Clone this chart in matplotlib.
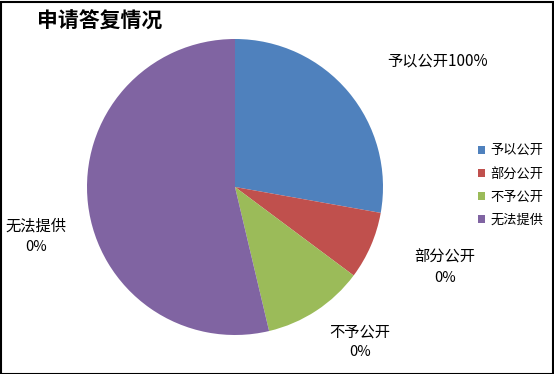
import matplotlib
matplotlib.use("Agg")
import matplotlib.pyplot as plt
from matplotlib.patches import Rectangle

plt.rcParams['font.family'] = ['Noto Sans CJK SC', 'DejaVu Sans']

# Reply categories and slice shares
categories = ["予以公开", "部分公开", "不予公开", "无法提供"]
shares = [27.8, 7.4, 11.1, 53.7]
pct_labels = ["100%", "0%", "0%", "0%"]
colors = ["#4F81BD", "#C0504D", "#9BBB59", "#8064A2"]
title = "申请答复情况"

W, H = 554, 374
fig = plt.figure(figsize=(W / 100, H / 100), dpi=100)

# pie axes: centre (235, 187) px, radius 148 px
cx, cy, r = 235, 187, 148
ax = fig.add_axes([(cx - r) / W, (H - cy - r) / H, 2 * r / W, 2 * r / H])
wedges, _ = ax.pie(shares, colors=colors, startangle=90, counterclock=False,
                   radius=1.0, wedgeprops=dict(linewidth=0))
ax.set_xlim(-1, 1)
ax.set_ylim(-1, 1)
ax.set_aspect('equal')
ax.axis('off')


def px2data(px, py):
    return (px - cx) / r, (cy - py) / r


# data labels
fs_lab = 11
x, y = px2data(438, 61)
ax.text(x, y, categories[0] + pct_labels[0], ha='center', va='center',
        fontsize=fs_lab, clip_on=False)
two_line = [(1, 445, 257, 278), (2, 360, 332, 352), (3, 36, 226, 247)]
for i, px, py1, py2 in two_line:
    x1, y1 = px2data(px, py1)
    x2, y2 = px2data(px, py2)
    ax.text(x1, y1, categories[i], ha='center', va='center', fontsize=fs_lab, clip_on=False)
    ax.text(x2, y2, pct_labels[i], ha='center', va='center', fontsize=fs_lab - 0.5, clip_on=False)

# legend
leg = fig.legend(wedges, categories, loc='upper left',
                 bbox_to_anchor=(469 / W, 1 - 135 / H), frameon=False,
                 fontsize=9.5, handlelength=0.55, handleheight=0.55,
                 handletextpad=0.35, labelspacing=0.78, borderpad=0.2)

# title
fig.text(37 / W, 1 - 21 / H, title, ha='left', va='center', fontsize=15,
         fontweight='bold')

# outer frame
fig.patches.append(Rectangle((0.5 / W, 0.5 / H), 1 - 2 / W, 1 - 2 / H,
                             transform=fig.transFigure, fill=False,
                             edgecolor='black', linewidth=1.5))

fig.savefig("out.png", dpi=100)
